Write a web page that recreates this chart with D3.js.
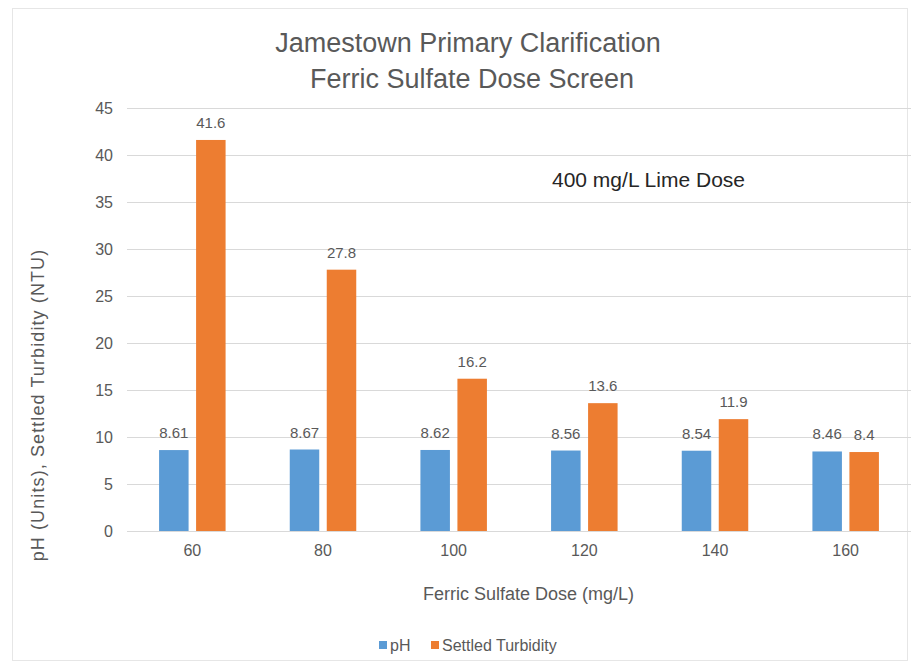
<!DOCTYPE html>
<html>
<head>
<meta charset="utf-8">
<script src="https://cdn.jsdelivr.net/npm/d3@7/dist/d3.min.js"></script>
<style>
  html, body { margin: 0; padding: 0; background: #fff; }
  svg { display: block; font-family: "Liberation Sans", Arial, sans-serif; }
</style>
</head>
<body>
<svg id="chart" width="915" height="668"></svg>
<script>
// Ferric sulfate dose screen data
const doses = ["60", "80", "100", "120", "140", "160"];
const phValues = [8.61, 8.67, 8.62, 8.56, 8.54, 8.46];
const turbidityValues = [41.6, 27.8, 16.2, 13.6, 11.9, 8.4];
const yTicks = [0, 5, 10, 15, 20, 25, 30, 35, 40, 45];
const seriesNames = ["pH", "Settled Turbidity"];
const seriesColors = ["#5b9bd5", "#ed7d31"];

const svg = d3.select("#chart");
const W = 915, H = 668;
const plot = { left: 127, right: 911, top: 108, bottom: 531 };
const textColor = "#595959";

// chart area border
svg.append("rect")
  .attr("x", 12.5).attr("y", 8.5)
  .attr("width", W - 20).attr("height", H - 16)
  .attr("fill", "none").attr("stroke", "#e6e6e6");

const x = d3.scaleBand().domain(doses).range([plot.left, plot.right]);
const y = d3.scaleLinear().domain([0, 45]).range([plot.bottom, plot.top]);

const barW = 29.5, gap = 7.5;

// gridlines
svg.append("g")
  .selectAll("line")
  .data(yTicks)
  .join("line")
  .attr("x1", plot.left).attr("x2", plot.right)
  .attr("y1", d => Math.round(y(d)) + 0.5).attr("y2", d => Math.round(y(d)) + 0.5)
  .attr("stroke", "#d9d9d9").attr("stroke-width", 1);

// y axis labels
const yAxis = d3.axisLeft(y).tickValues(yTicks).tickSize(0).tickPadding(0);
const gy = svg.append("g").attr("transform", `translate(${plot.left - 14},0)`).call(yAxis);
gy.select(".domain").remove();
gy.selectAll("text")
  .attr("font-size", 16).attr("fill", textColor)
  .attr("font-family", "Liberation Sans, Arial, sans-serif");

// x axis labels
const xAxis = d3.axisBottom(x).tickSize(0).tickPadding(0);
const gx = svg.append("g").attr("transform", `translate(0,${plot.bottom + 14})`).call(xAxis);
gx.select(".domain").remove();
gx.selectAll("text")
  .attr("font-size", 16).attr("fill", textColor)
  .attr("font-family", "Liberation Sans, Arial, sans-serif");

// bars with value labels
const series = [phValues, turbidityValues];
series.forEach((vals, si) => {
  const offset = si === 0 ? -(gap / 2 + barW) : gap / 2;
  const g = svg.append("g");
  g.selectAll("rect")
    .data(vals)
    .join("rect")
    .attr("x", (d, i) => x(doses[i]) + x.bandwidth() / 2 + offset)
    .attr("y", d => y(d))
    .attr("width", barW)
    .attr("height", d => y(0) - y(d))
    .attr("fill", seriesColors[si]);
  g.selectAll("text")
    .data(vals)
    .join("text")
    .attr("x", (d, i) => x(doses[i]) + x.bandwidth() / 2 + offset + barW / 2)
    .attr("y", d => y(d) - 12)
    .attr("text-anchor", "middle")
    .attr("font-size", 15)
    .attr("fill", textColor)
    .text(d => d);
});

// title
const title = svg.append("text")
  .attr("text-anchor", "middle")
  .attr("font-size", 27).attr("fill", textColor);
title.append("tspan").attr("x", 468).attr("y", 52).text("Jamestown Primary Clarification");
title.append("tspan").attr("x", 472).attr("y", 88).text("Ferric Sulfate Dose Screen");

// annotation
svg.append("text")
  .attr("x", 552).attr("y", 187)
  .attr("font-size", 21).attr("fill", "#262626")
  .text("400 mg/L Lime Dose");

// axis titles
svg.append("text")
  .attr("transform", "translate(44,405) rotate(-90)")
  .attr("text-anchor", "middle")
  .attr("font-size", 18).attr("letter-spacing", 1.1).attr("fill", textColor)
  .text("pH (Units), Settled Turbidity (NTU)");

svg.append("text")
  .attr("x", 423).attr("y", 600)
  .attr("font-size", 18).attr("fill", textColor)
  .text("Ferric Sulfate Dose (mg/L)");

// legend
const legend = svg.append("g").attr("transform", "translate(379,651)");
const legendX = [0, 52];
seriesNames.forEach((name, i) => {
  const lg = legend.append("g").attr("transform", `translate(${legendX[i]},0)`);
  lg.append("rect").attr("x", 0).attr("y", -10).attr("width", 8).attr("height", 8).attr("fill", seriesColors[i]);
  lg.append("text").attr("x", 11).attr("y", 0).attr("font-size", 16).attr("fill", textColor).text(name);
});
</script>
</body>
</html>
